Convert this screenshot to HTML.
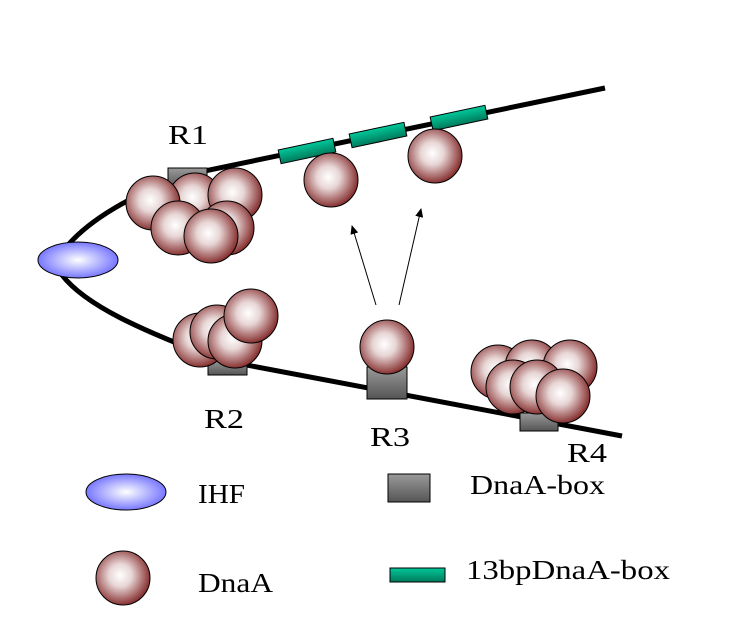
<!DOCTYPE html>
<html><head><meta charset="utf-8"><style>html,body{margin:0;padding:0;background:#fff}svg{display:block}</style></head>
<body>
<svg width="732" height="622" viewBox="0 0 732 622" xmlns="http://www.w3.org/2000/svg">
<defs>
<radialGradient id="g" cx="0.45" cy="0.45" r="0.6">
<stop offset="0" stop-color="#ffffff"/><stop offset="0.35" stop-color="#e8d6d6"/><stop offset="1" stop-color="#7a1a1a"/>
</radialGradient>
<radialGradient id="b" cx="0.5" cy="0.5" r="0.55">
<stop offset="0" stop-color="#ffffff"/><stop offset="1" stop-color="#6a6aff"/>
</radialGradient>
<linearGradient id="gr" x1="0" y1="0" x2="0" y2="1">
<stop offset="0" stop-color="#9a9a9a"/><stop offset="1" stop-color="#555"/>
</linearGradient>
<linearGradient id="gn" x1="0" y1="0" x2="0" y2="1">
<stop offset="0" stop-color="#00c89a"/><stop offset="1" stop-color="#007a5c"/>
</linearGradient>
<marker id="ar" markerWidth="10" markerHeight="10" refX="8" refY="5" orient="auto" markerUnits="userSpaceOnUse">
<path d="M0,1 L9,5 L0,9 z" fill="#000"/></marker>
</defs>
<g fill="none" stroke="#000" stroke-width="5">
<path d="M68,245 C90,220 130,195 190,174 L605,88"/>
<path d="M62,275 C85,305 140,330 220,360 L622,436"/>
</g>
<g stroke="#000" stroke-width="1">
<rect x="168" y="168" width="39" height="20" fill="url(#gr)"/>
<rect x="208" y="360" width="39" height="15" fill="url(#gr)"/>
<rect x="367" y="367" width="40" height="32" fill="url(#gr)"/>
<rect x="520" y="413" width="38" height="18" fill="url(#gr)"/>
<rect x="-28" y="-7" width="56" height="14" fill="url(#gn)" transform="translate(307,151) rotate(-12)"/>
<rect x="-28" y="-7" width="56" height="14" fill="url(#gn)" transform="translate(378,135) rotate(-12)"/>
<rect x="-28" y="-7" width="56" height="14" fill="url(#gn)" transform="translate(459,118) rotate(-12)"/>
<ellipse cx="78" cy="260" rx="40" ry="18" fill="url(#b)"/>
<g fill="url(#g)">
<circle cx="195" cy="200" r="27"/><circle cx="153" cy="203" r="27"/><circle cx="235" cy="195" r="27"/>
<circle cx="178" cy="228" r="27"/><circle cx="227" cy="228" r="27"/><circle cx="211" cy="236" r="27"/>
<circle cx="331" cy="180" r="27"/><circle cx="435" cy="156" r="27"/>
<circle cx="200" cy="340" r="27"/><circle cx="217" cy="332" r="27"/><circle cx="235" cy="341" r="27"/><circle cx="251" cy="316" r="27"/>
<circle cx="387" cy="347" r="27"/>
<circle cx="498" cy="372" r="27"/><circle cx="532" cy="367" r="27"/><circle cx="570" cy="367" r="27"/>
<circle cx="513" cy="387" r="27"/><circle cx="537" cy="387" r="27"/><circle cx="563" cy="396" r="27"/>
</g>
<ellipse cx="126" cy="492" rx="40" ry="18" fill="url(#b)"/>
<circle cx="123" cy="578" r="27" fill="url(#g)"/>
<rect x="388" y="474" width="42" height="28" fill="url(#gr)"/>
<rect x="390" y="568" width="55" height="14" fill="url(#gn)"/>
</g>
<g stroke="#000" stroke-width="1">
<line x1="376" y1="305" x2="352" y2="226" marker-end="url(#ar)"/>
<line x1="399" y1="305" x2="421" y2="209" marker-end="url(#ar)"/>
</g>
<g font-family="Liberation Serif, serif" font-size="27" fill="#000" lengthAdjust="spacingAndGlyphs">
<text x="168" y="144" textLength="40" lengthAdjust="spacingAndGlyphs">R1</text>
<text x="204" y="428" textLength="40" lengthAdjust="spacingAndGlyphs">R2</text>
<text x="370" y="446" textLength="40" lengthAdjust="spacingAndGlyphs">R3</text>
<text x="567" y="462" textLength="40" lengthAdjust="spacingAndGlyphs">R4</text>
<text x="198" y="503" textLength="47" lengthAdjust="spacingAndGlyphs">IHF</text>
<text x="198" y="592" textLength="75" lengthAdjust="spacingAndGlyphs">DnaA</text>
<text x="470" y="494" textLength="135" lengthAdjust="spacingAndGlyphs">DnaA-box</text>
<text x="466" y="579" textLength="204" lengthAdjust="spacingAndGlyphs">13bpDnaA-box</text>
</g>
</svg>
</body></html>
